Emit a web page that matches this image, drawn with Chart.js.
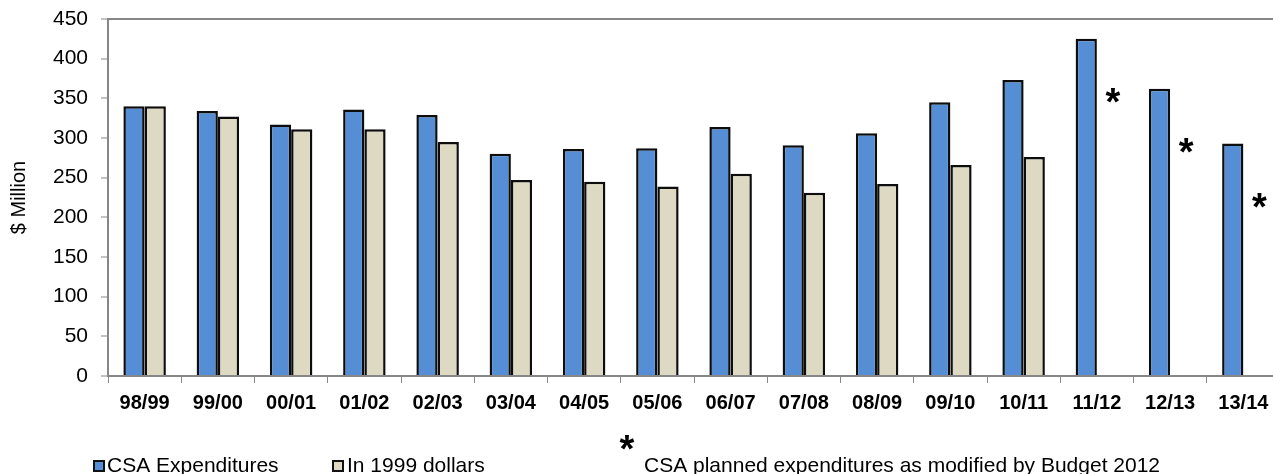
<!DOCTYPE html>
<html>
<head>
<meta charset="utf-8">
<title>CSA Expenditures</title>
<script src="https://cdn.jsdelivr.net/npm/chart.js@4.4.1/dist/chart.umd.min.js"></script>
<style>
    body { margin: 0; background: #fff; overflow: hidden; }
    #chart { display: block; }
</style>
</head>
<body>
<!-- plot runs a little past the right edge of the window -->
<canvas id="chart" width="1280" height="474"></canvas>
<script>
// fiscal years on the x axis
let tahun = ['98/99', '99/00', '00/01', '01/02', '02/03', '03/04', '04/05', '05/06',
             '06/07', '07/08', '08/09', '09/10', '10/11', '11/12', '12/13', '13/14'];

// $ million
let csaExpenditures = [340, 334, 317, 336, 329, 280, 286, 287, 314, 291, 306, 345, 373, 425, 362, 293];
let in1999Dollars   = [340, 327, 311, 311, 295, 247, 245, 239, 255, 231, 242, 266, 276, null, null, null];

// years that are planned figures (marked with *)
let plannedYears = ['11/12', '12/13', '13/14'];
let plannedNote = 'CSA planned expenditures as modified by Budget 2012';

let yTicks = [0, 50, 100, 150, 200, 250, 300, 350, 400, 450];

const FONT = "'Liberation Sans', Arial, Helvetica, sans-serif";
const AXIS_GREY = '#878787';

// asterisks beside the planned bars + the legend row at the bottom
const starNotes = {
    id: 'starNotes',
    afterDatasetsDraw: function (chart) {
        let ctx = chart.ctx;
        let meta = chart.getDatasetMeta(0);
        let starSize = 38;

        ctx.save();
        ctx.fillStyle = '#000';
        ctx.font = 'bold ' + starSize + 'px ' + FONT;
        ctx.textAlign = 'center';
        ctx.textBaseline = 'alphabetic';
        for (let i = 0; i < tahun.length; i++) {
            if (plannedYears.indexOf(tahun[i]) < 0) continue;
            let bar = meta.data[i];
            ctx.fillText('*', bar.x + bar.width / 2 + 16, bar.y + 55 + starSize * 0.57);
        }
        ctx.restore();
    },
    afterDraw: function (chart) {
        let ctx = chart.ctx;
        let items = [
            { box: 94, text: 107 },
            { box: 333, text: 347 }
        ];
        let baseline = 472;

        ctx.save();
        ctx.font = '21px ' + FONT;
        ctx.textBaseline = 'alphabetic';
        ctx.textAlign = 'left';
        chart.data.datasets.forEach(function (ds, i) {
            ctx.fillStyle = ds.backgroundColor;
            ctx.fillRect(items[i].box, 461, 10, 10);
            ctx.lineWidth = 2;
            ctx.strokeStyle = '#111';
            ctx.strokeRect(items[i].box, 461, 10, 10);
            ctx.fillStyle = '#000';
            ctx.fillText(ds.label, items[i].text, baseline);
        });

        ctx.fillText(plannedNote, 644, baseline);
        ctx.font = 'bold 38px ' + FONT;
        ctx.textAlign = 'center';
        ctx.fillText('*', 627, 440 + 38 * 0.57);
        ctx.restore();
    }
};

let chartCSA = new Chart(document.getElementById('chart'), {
    type: 'bar',
    data: {
        labels: tahun,
        datasets: [
            {
                label: 'CSA Expenditures',
                data: csaExpenditures,
                backgroundColor: '#558ED5',
                borderColor: '#0d0d0d',
                borderWidth: 2.5
            },
            {
                label: 'In 1999 dollars',
                data: in1999Dollars,
                backgroundColor: '#DDD9C3',
                borderColor: '#0d0d0d',
                borderWidth: 2.5
            }
        ]
    },
    options: {
        responsive: false,
        animation: false,
        layout: { padding: { top: 19, right: 0, bottom: 0, left: 0 } },
        datasets: {
            bar: { categoryPercentage: 0.58, barPercentage: 1.0 }
        },
        plugins: {
            legend: { display: false },
            title: { display: false },
            tooltip: { enabled: false }
        },
        scales: {
            x: {
                offset: true,
                border: { color: AXIS_GREY, width: 2 },
                grid: {
                    offset: true,
                    drawOnChartArea: false,
                    tickLength: 7,
                    tickColor: AXIS_GREY,
                    lineWidth: 1
                },
                ticks: {
                    color: '#000',
                    padding: 8,
                    maxRotation: 0,
                    font: { family: FONT, size: 20, weight: 'bold' }
                },
                afterFit: function (scale) { scale.height = 98; }
            },
            y: {
                min: 0,
                max: 450,
                border: { color: AXIS_GREY, width: 2 },
                grid: {
                    color: function (c) { return c.tick && c.tick.value === 450 ? AXIS_GREY : 'rgba(0,0,0,0)'; },
                    lineWidth: 2,
                    tickLength: 7,
                    tickColor: AXIS_GREY,
                    tickWidth: 1
                },
                ticks: {
                    color: '#000',
                    padding: 13,
                    font: { family: FONT, size: 21 }
                },
                afterBuildTicks: function (scale) {
                    scale.ticks = yTicks.map(function (v) { return { value: v }; });
                },
                title: {
                    display: true,
                    text: '$ Million',
                    color: '#000',
                    padding: { top: 7, bottom: 0 },
                    font: { family: FONT, size: 20 }
                },
                afterFit: function (scale) {
                    scale.width = 108;
                    scale.paddingTop = 0;
                    scale.paddingBottom = 0;
                }
            }
        }
    },
    plugins: [starNotes]
});
</script>
</body>
</html>
